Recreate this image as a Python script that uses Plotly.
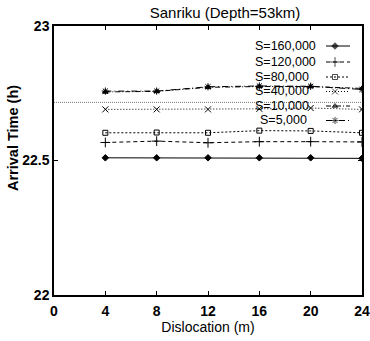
import plotly.graph_objects as go

# ---- data ----
dislocation = [4, 8, 12, 16, 20, 24]
s_labels = ["S=160,000", "S=120,000", "S=80,000", "S=40,000", "S=10,000", "S=5,000"]
t_160000 = [22.510, 22.510, 22.510, 22.510, 22.510, 22.508]
t_120000 = [22.567, 22.572, 22.566, 22.570, 22.570, 22.569]
t_80000 = [22.603, 22.604, 22.603, 22.611, 22.610, 22.603]
t_40000 = [22.690, 22.690, 22.690, 22.692, 22.695, 22.690]
t_10000 = [22.755, 22.757, 22.772, 22.775, 22.775, 22.768]
t_5000 = [22.758, 22.758, 22.774, 22.777, 22.776, 22.764]
observed = 22.716
x_ticks = [0, 4, 8, 12, 16, 20, 24]
y_ticks = [22, 22.5, 23]
y_ticktext = ["22", "22.5", "23"]

series = [t_160000, t_120000, t_80000, t_40000, t_10000, t_5000]
styles = [
    dict(dash="solid", symbol="diamond", size=5),
    dict(dash="4px,3px", symbol="cross-thin", size=7),
    dict(dash="2px,2px", symbol="square-open", size=5),
    dict(dash="1px,2px", symbol="x-thin", size=6),
    dict(dash="5px,2px,1px,2px", symbol="triangle-up", size=5),
    dict(dash="6px,3px,1px,3px", symbol="asterisk", size=6),
]

W, H = 370, 341
L, R, T, B = 54, 8, 26, 46
pw, ph = W - L - R, H - T - B

def px_to_paper(px, py):
    return (px - L) / pw, (H - B - py) / ph

fig = go.Figure()
for vals, st, name in zip(series, styles, s_labels):
    fig.add_trace(go.Scatter(
        x=dislocation, y=vals, mode="lines+markers", name=name,
        line=dict(color="black", width=1, dash=st["dash"]),
        marker=dict(symbol=st["symbol"], size=st["size"], color="black",
                    line=dict(color="black", width=1)),
        showlegend=False,
    ))

fig.add_hline(y=observed, line=dict(color="#777777", width=1, dash="1px,1px"))

# ---- manual legend (text on the left, sample on the right) ----
row_y = [46, 62, 77, 91.5, 106, 120.5]
text_right = [318, 318, 311, 311, 311, 309]
for name, st, ry, tr in zip(s_labels, styles, row_y, text_right):
    xa, ya = px_to_paper(tr, ry)
    fig.add_annotation(text=name, x=xa, y=ya, xref="paper", yref="paper",
                       xanchor="right", yanchor="middle", showarrow=False,
                       font=dict(size=12.5, color="black"))
    x0, y0 = px_to_paper(326, ry)
    xm, _ = px_to_paper(335, ry)
    x1, _ = px_to_paper(350, ry)
    fig.add_trace(go.Scatter(
        x=[x0, xm, x1], y=[y0, y0, y0], xaxis="x2", yaxis="y2",
        mode="lines+markers", showlegend=False, hoverinfo="skip",
        line=dict(color="black", width=1, dash=st["dash"]),
        marker=dict(symbol=st["symbol"], size=[0, st["size"], 0], color="black",
                    line=dict(color="black", width=1)),
    ))

# y-axis title placed like the reference (above plot centre)
ytx, yty = px_to_paper(13, 138)
fig.add_annotation(text="Arrival Time (h)", x=ytx, y=yty, xref="paper", yref="paper",
                   xanchor="center", yanchor="middle", textangle=-90, showarrow=False,
                   font=dict(size=14.5, weight="bold", color="black"))

axis_common = dict(showgrid=False, zeroline=False, showline=True, linecolor="black",
                   linewidth=1.5, mirror="ticks", ticks="inside", ticklen=4,
                   tickcolor="black", tickwidth=1, automargin=False,
                   tickfont=dict(size=14, color="black", weight="bold"))

fig.update_layout(
    width=W, height=H,
    margin=dict(l=L, r=R, t=T, b=B, autoexpand=False),
    paper_bgcolor="white", plot_bgcolor="white",
    font=dict(family="Liberation Sans, Arial, sans-serif", color="black"),
    title=dict(text="Sanriku (Depth=53km)", x=225 / W, xref="container", xanchor="center",
               y=1 - 13 / H, yref="container", yanchor="middle",
               font=dict(size=15, color="black")),
    xaxis=dict(range=[0, 24], tickvals=x_ticks, ticklabelstandoff=2, **axis_common,
               title=dict(text="Dislocation (m)", font=dict(size=14), standoff=3)),
    yaxis=dict(range=[22, 23], tickvals=y_ticks, ticktext=y_ticktext, **axis_common),
    xaxis2=dict(range=[0, 1], overlaying="x", visible=False),
    yaxis2=dict(range=[0, 1], overlaying="y", visible=False),
)

fig.write_html("out.html", config={"displayModeBar": False},
               post_script="document.body.style.margin='0';")
